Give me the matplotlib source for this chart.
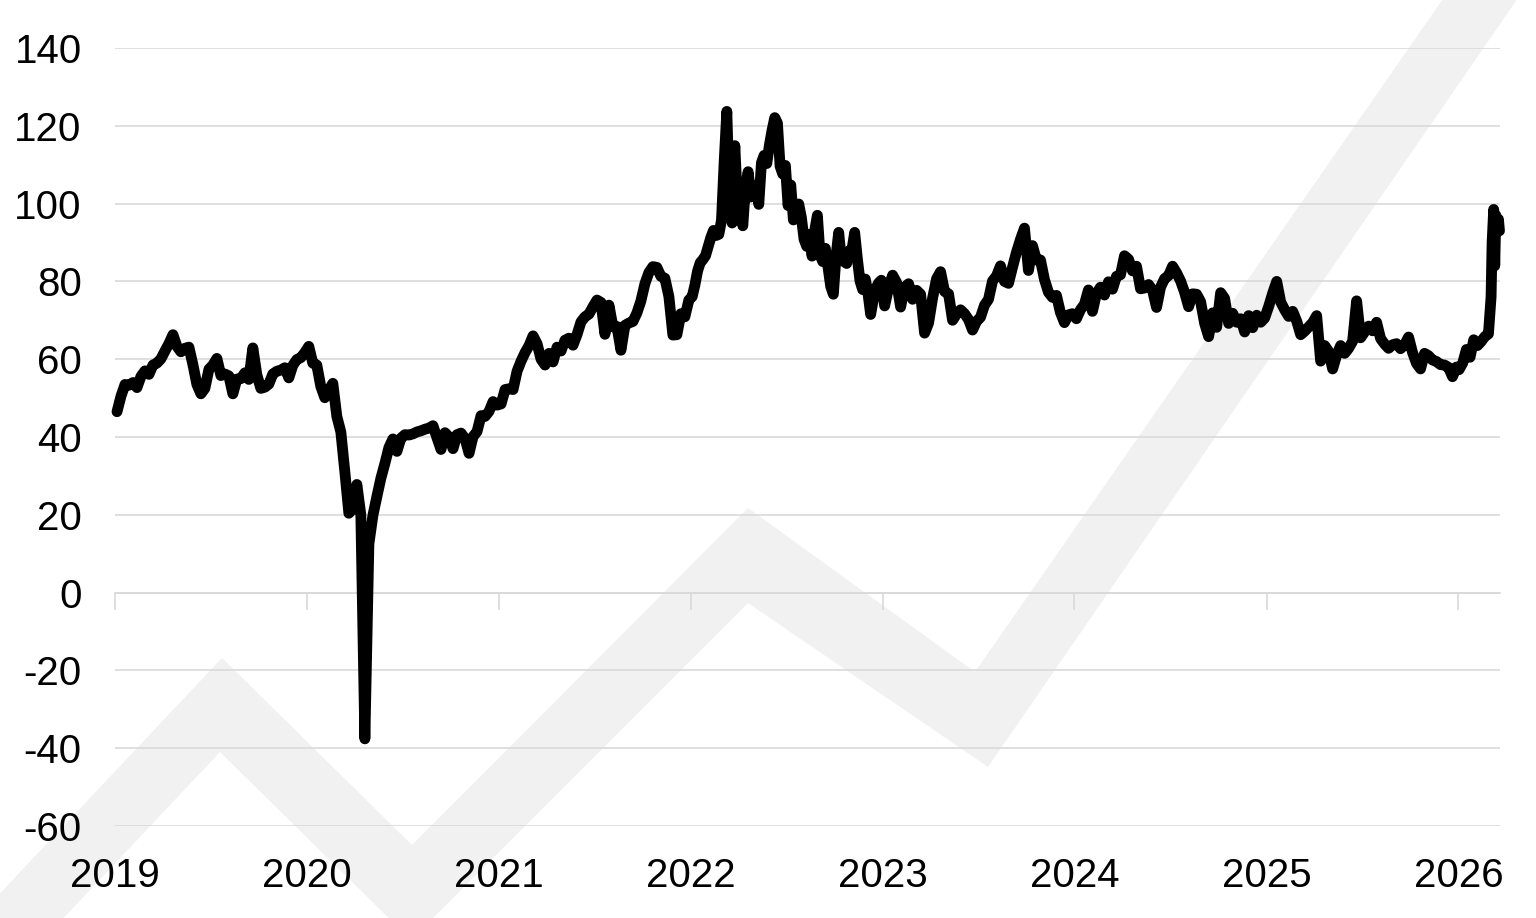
import numpy as np
import pandas as pd
import matplotlib
matplotlib.use("Agg")
import matplotlib.pyplot as plt
from matplotlib.patches import Polygon

plt.rcParams['font.family'] = ['Liberation Sans', 'DejaVu Sans']
plt.rcParams['axes.unicode_minus'] = False

# ---- data (WTI crude, USD/bbl), values spread evenly through each year ----
v2019 = [46.5, 50.5, 53.5, 53.3,
         54.0, 52.7, 55.6, 57.0,
         56.1, 58.5, 59.0, 60.1,
         62.1, 64.0, 66.3, 63.3,
         61.9, 62.8, 63.1, 58.6,
         53.5, 51.1, 52.5, 57.4,
         58.5, 60.2, 55.8, 56.2,
         55.7, 51.1, 54.9, 55.0,
         56.5, 54.8, 62.9, 56.0,
         52.5, 52.8, 53.6, 56.2,
         56.9, 57.2, 57.8, 55.2,
         58.4, 59.9, 60.4, 61.7]
v2020 = [63.3, 59.0, 58.5, 53.0,
         50.1, 52.0, 53.8, 45.3,
         41.3, 31.1, 20.4, 21.5,
         27.8, 19.9, -37.6, 12.5,
         19.8, 24.7, 29.4, 33.2,
         37.3, 39.5, 36.3, 39.7,
         40.6, 40.5, 40.8, 41.3,
         41.6, 42.0, 42.3, 42.9,
         39.8, 36.8, 41.1, 40.0,
         37.0, 40.6, 41.0, 39.6,
         35.8, 40.1, 41.4, 45.5,
         45.3, 46.6, 49.1, 48.2]
v2021 = [48.5, 52.2, 52.4, 52.2,
         56.9, 59.5, 61.7, 63.5,
         66.0, 64.0, 60.0, 58.5,
         61.5, 59.3, 63.1, 62.1,
         64.9, 65.4, 63.6, 66.3,
         69.6, 70.9, 71.6, 73.5,
         75.2, 74.6, 66.4, 73.9,
         68.3, 68.4, 62.3, 68.7,
         69.3, 69.7, 71.9, 75.0,
         79.4, 82.3, 83.8, 83.6,
         81.3, 80.8, 76.1, 66.2,
         66.3, 71.7, 70.9, 75.2]
v2022 = [76.1, 79.0, 82.6, 84.8, 85.6, 86.6,
         89.0, 91.3, 93.1, 91.8, 92.1, 95.7,
         110.6, 123.7, 100.0, 95.0, 114.9, 100.3,
         99.3, 94.3, 104.3, 108.2, 101.7, 104.7,
         104.7, 99.8, 110.5, 112.4, 110.3, 115.1,
         118.9, 122.1, 120.7, 109.6, 107.6, 109.8,
         99.5, 104.8, 95.8, 97.6, 99.9, 96.4,
         90.8, 89.0, 92.1, 86.5, 93.1, 97.0,
         86.8, 85.1, 88.5, 83.5, 78.7, 76.7,
         86.5, 92.6, 85.6, 85.1, 84.6, 87.9,
         88.2, 92.6, 85.9, 80.1, 77.9, 80.6,
         76.9, 71.5, 75.4, 78.3, 79.6, 80.3]
v2023 = [73.7, 78.4, 81.6, 79.7,
         73.4, 78.5, 79.4, 75.4,
         77.7, 76.7, 66.7, 69.3,
         75.7, 80.7, 82.5, 77.4,
         76.8, 70.0, 71.6, 72.7,
         71.7, 70.2, 67.5, 69.7,
         70.8, 73.9, 75.4, 80.1,
         81.4, 84.0, 80.0, 79.5,
         83.6, 87.5, 90.8, 93.7,
         82.8, 89.2, 85.5, 85.5,
         80.5, 77.2, 75.9, 76.4,
         72.0, 69.4, 71.4, 71.7]
v2024 = [70.4, 72.7, 74.1, 77.8,
         72.3, 76.8, 78.5, 76.5,
         79.9, 78.0, 81.3, 81.7,
         86.6, 85.7, 82.7, 83.9,
         78.1, 78.3, 79.2, 77.7,
         73.3, 78.5, 80.7, 81.5,
         83.9, 82.2, 80.1, 77.2,
         73.5, 76.8, 76.7, 74.8,
         69.2, 65.8, 71.9, 68.2,
         77.1, 75.6, 69.2, 71.8,
         69.5, 70.4, 67.0, 71.2,
         68.1, 71.3, 69.5, 70.6]
v2025 = [73.6, 77.0, 80.0, 74.7,
         72.7, 71.0, 72.3, 69.8,
         66.3, 67.2, 68.3, 69.4,
         71.2, 59.5, 63.5, 62.0,
         57.5, 61.0, 63.5, 61.5,
         62.8, 64.6, 75.0, 65.5,
         67.0, 68.5, 67.3, 69.5,
         65.3, 63.9, 62.8, 63.7,
         64.0, 62.7, 63.7, 65.7,
         61.7, 58.9, 57.5, 61.5,
         60.9, 59.8, 59.4, 58.6,
         58.5, 57.9, 55.5, 58.0]
d2026 = ['2026-01-02', '2026-01-09', '2026-01-16', '2026-01-23', '2026-01-30',
         '2026-02-06', '2026-02-13', '2026-02-20', '2026-02-27', '2026-03-02',
         '2026-03-04', '2026-03-06', '2026-03-09', '2026-03-11', '2026-03-13',
         '2026-03-16', '2026-03-18', '2026-03-20']
v2026 = [57.3, 59.0, 62.5, 60.5, 65.0,
         63.5, 64.5, 65.8, 66.5, 72.0,
         76.0, 90.0, 98.5, 84.0, 97.0,
         93.0, 96.0, 93.0]

yearly = {2019: v2019, 2020: v2020, 2021: v2021, 2022: v2022,
          2023: v2023, 2024: v2024, 2025: v2025}

tick_years = [2019, 2020, 2021, 2022, 2023, 2024, 2025, 2026]
y_ticks = [-60, -40, -20, 0, 20, 40, 60, 80, 100, 120, 140]


def year_dates(y, n):
    start = pd.Timestamp(f'{y}-01-01')
    end = pd.Timestamp(f'{y + 1}-01-01')
    return [start + (end - start) * ((i + 0.5) / n) for i in range(n)]


dates, values = [], []
for y, vals in yearly.items():
    dates += year_dates(y, len(vals))
    values += vals
dates += [pd.Timestamp(d) for d in d2026]
values += v2026

# ---- figure ----
W, H = 1536, 918
fig = plt.figure(figsize=(W / 100, H / 100), dpi=100)

# background watermark (light grey zig-zag arrow band)
wm = [(-60, 957), (222, 658), (412, 845), (748, 508), (975, 672),
      (1477, -50), (1551, -50), (988, 767), (748, 603), (411, 940),
      (220, 752), (-60, 1049)]
poly = Polygon([(x / W, 1 - y / H) for x, y in wm], closed=True,
               transform=fig.transFigure, facecolor='#f1f1f1',
               edgecolor='none', zorder=-1)
fig.add_artist(poly)

ax = fig.add_axes([115 / W, 1 - 826 / H, (1500 - 115) / W, (826 - 48) / H])
ax.patch.set_alpha(0)

grid_c = '#d9d9d9'
ax.plot(dates, values, color='black', lw=7.8, solid_joinstyle='round',
        solid_capstyle='round', clip_on=False, zorder=3)

ax.set_ylim(-60, 140)
ax.set_xlim(pd.Timestamp('2019-01-01'), pd.Timestamp('2026-03-21'))
ax.set_yticks(y_ticks)
ax.set_yticklabels([str(t) for t in y_ticks])
ax.grid(axis='y', color=grid_c, lw=1.2)
ax.set_axisbelow(True)

xt = [pd.Timestamp(f'{y}-01-01') for y in tick_years]
ax.set_xticks(xt)
ax.set_xticklabels([str(y) for y in tick_years])
ax.tick_params(axis='y', length=0, pad=24, labelsize=29, labelcolor='black')
ax.tick_params(axis='x', length=0, pad=22, labelsize=29, labelcolor='black')
for s in ax.spines.values():
    s.set_visible(False)

# axis line at zero with downward ticks
sec = ax.secondary_xaxis(60 / 200)
sec.set_xticks(xt)
sec.set_xticklabels([])
sec.tick_params(direction='out', length=12, color=grid_c, width=1.2)
for s in sec.spines.values():
    s.set_color(grid_c)
    s.set_linewidth(1.2)

fig.savefig('out.png', dpi=100)
